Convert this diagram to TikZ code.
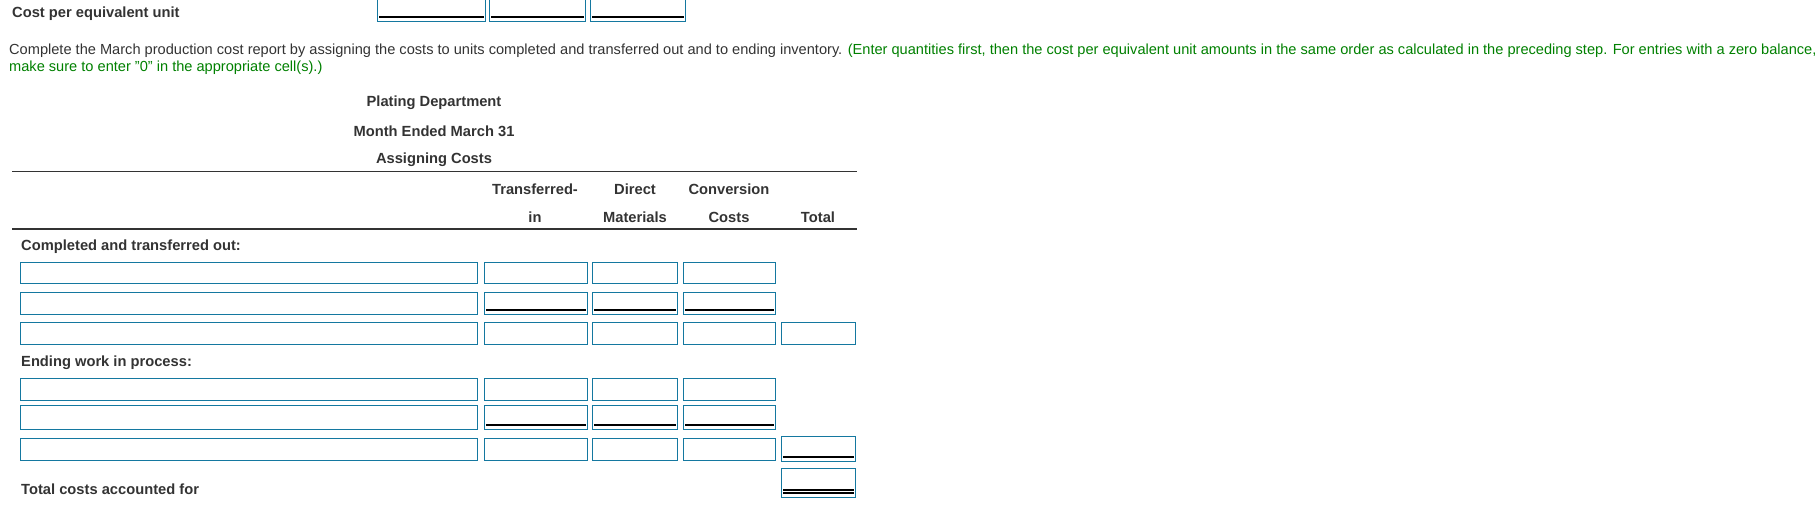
\documentclass[tikz,border=0pt]{standalone}
\usepackage{fontspec}
\setmainfont{Liberation Sans}
\definecolor{boxc}{RGB}{20,120,160}
\definecolor{txt}{RGB}{51,51,51}
\definecolor{grn}{RGB}{0,128,0}
\newcommand\bx[5]{\node[ibox,minimum width=#3pt,minimum height=#4pt,anchor=north west] (#5) at (#1,#2) {};}
\newcommand\ul[1]{\draw[uline] ([xshift=2pt,yshift=5pt]#1.south west) -- ([xshift=-2pt,yshift=5pt]#1.south east);}
\begin{document}
\begin{tikzpicture}[x=1pt,y=-1pt,
  ibox/.style={draw=boxc,line width=1pt,inner sep=0pt,fill=white},
  uline/.style={draw=black,line width=1.1pt},
  lbl/.style={font=\fontsize{14.7}{17}\selectfont\bfseries,text=txt,inner sep=0pt},
  hdr/.style={font=\fontsize{14.7}{17}\selectfont\bfseries,text=txt,inner sep=0pt},
  para/.style={font=\fontsize{14.6}{17}\selectfont,inner sep=0pt,anchor=west}]
\useasboundingbox (0,0) rectangle (1820,505);
% top
\node[lbl,anchor=west] (cpu) at (12,14) {Cost per equivalent unit};
\bx{377}{-2}{108}{23}{t1}\bx{489}{-2}{96}{23}{t2}\bx{590}{-2}{95}{23}{t3}
\ul{t1}\ul{t2}\ul{t3}
\node[para,text=txt] (p1) at (9,51) {Complete the March production cost report by assigning the costs to units completed and transferred out and to ending inventory. \textcolor{grn}{(Enter quantities first, then the cost per equivalent unit amounts in the same order as calculated in the preceding step. For entries with a zero balance,}};
\node[para,text=grn] (p2) at (9,68) {make sure to enter "0" in the appropriate cell(s).)};
% titles
\node[hdr] (h1) at (434,103) {Plating Department};
\node[hdr] (h2) at (434,131) {Month Ended March 31};
\node[hdr] (h3) at (434,160) {Assigning Costs};
\coordinate (r1a) at (12,172); \coordinate (r1b) at (857,172);
\draw[line width=1pt,txt] (r1a) -- (r1b);
\node[hdr] (c1a) at (535,189) {Transferred-};
\node[hdr] (c2a) at (635,189) {Direct};
\node[hdr] (c3a) at (729,189) {Conversion};
\node[hdr] (c1b) at (535,217) {in};
\node[hdr] (c2b) at (635,217) {Materials};
\node[hdr] (c3b) at (729,217) {Costs};
\node[hdr] (c4b) at (818,217) {Total};
\coordinate (r2a) at (12,229); \coordinate (r2b) at (857,229);
\draw[line width=1pt,txt] (r2a) -- (r2b);
\node[lbl,anchor=west] (cto) at (21,247) {Completed and transferred out:};
% rows
\foreach \n/\y/\h in {a/262/21,b/292/22,c/322/22,d/378/22,e/405/24,f/438/22}{
  \bx{20}{\y}{457}{\h}{L\n}
  \bx{484}{\y}{103}{\h}{T\n}
  \bx{592}{\y}{85}{\h}{D\n}
  \bx{683}{\y}{92}{\h}{C\n}
}
\foreach \n in {b,e}{\ul{T\n}\ul{D\n}\ul{C\n}}
\bx{781}{322}{74}{22}{Xc}
\bx{781}{436}{74}{25}{Xf}\ul{Xf}
\node[lbl,anchor=west] (ewp) at (21,363) {Ending work in process:};
\bx{781}{468}{74}{29}{Xt}
\draw[uline] ([xshift=2pt,yshift=5pt]Xt.south west) -- ([xshift=-2pt,yshift=5pt]Xt.south east);
\draw[uline] ([xshift=2pt,yshift=8pt]Xt.south west) -- ([xshift=-2pt,yshift=8pt]Xt.south east);
\node[lbl,anchor=west] (tca) at (21,489) {Total costs accounted for};
\end{tikzpicture}
\end{document}
